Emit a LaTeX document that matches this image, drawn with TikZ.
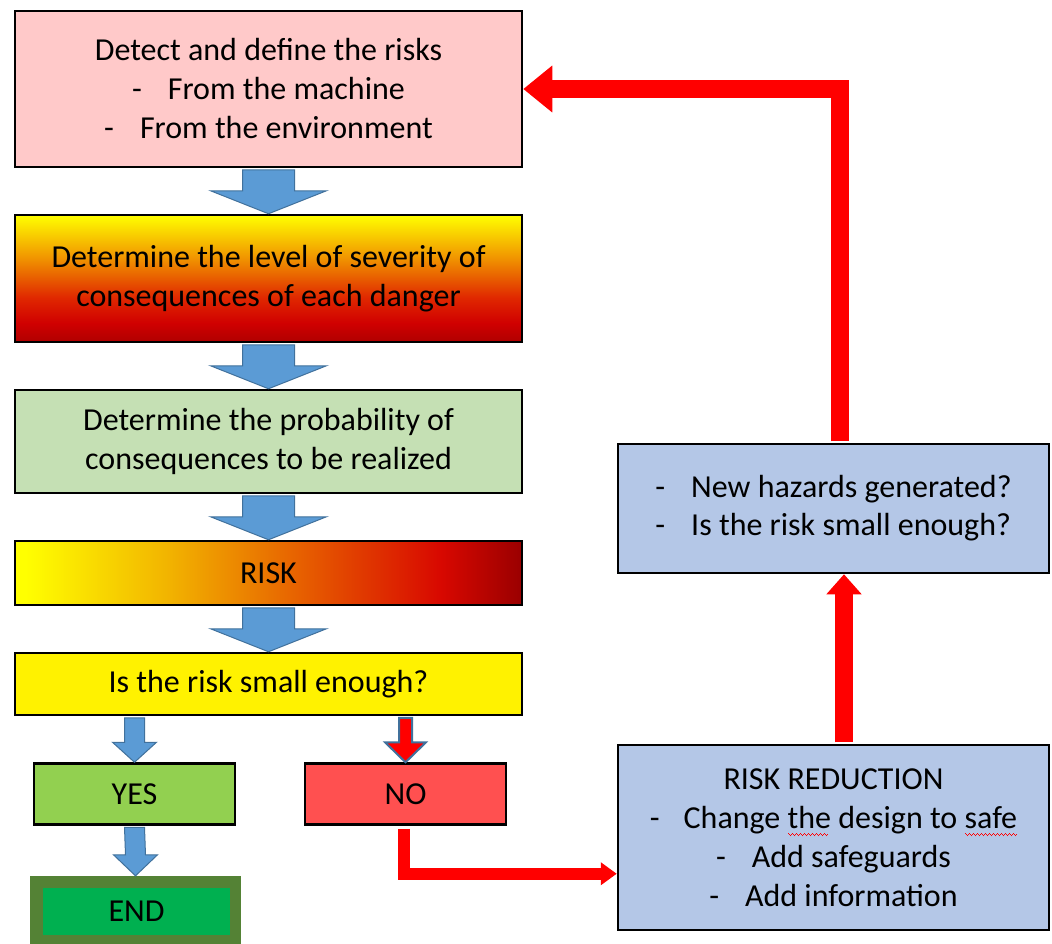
\documentclass[tikz,border=0pt]{standalone}
\usepackage{fontspec}
\setmainfont{Carlito}
\usetikzlibrary{arrows.meta,calc}
\definecolor{pinkbox}{HTML}{FFC9C9}
\definecolor{greenbox}{HTML}{C5E0B4}
\definecolor{yesgreen}{HTML}{92D050}
\definecolor{nored}{HTML}{FF5050}
\definecolor{endolive}{HTML}{548235}
\definecolor{endgreen}{HTML}{00B050}
\definecolor{paleblue}{HTML}{B4C7E7}
\definecolor{arrowblue}{HTML}{5B9BD5}
\definecolor{arrowedge}{HTML}{41719C}
\definecolor{sva}{HTML}{FFFF00}
\definecolor{svb}{HTML}{F09000}
\definecolor{svc}{HTML}{E02800}
\definecolor{svd}{HTML}{D00000}
\definecolor{sve}{HTML}{B00000}
\definecolor{rka}{HTML}{FFFF00}
\definecolor{rkb}{HTML}{F2B400}
\definecolor{rkc}{HTML}{E65A00}
\definecolor{rkd}{HTML}{D80800}
\definecolor{rke}{HTML}{9A0000}
\pgfdeclareverticalshading{sevgrad}{100bp}{color(0bp)=(sve); color(25bp)=(sve); color(32.5bp)=(svd); color(42.5bp)=(svc); color(57.5bp)=(svb); color(75bp)=(sva); color(100bp)=(sva)}
\pgfdeclarehorizontalshading{riskgrad}{100bp}{color(0bp)=(rka); color(26bp)=(rka); color(40bp)=(rkb); color(54bp)=(rkc); color(67bp)=(rkd); color(75bp)=(rke); color(100bp)=(rke)}
\newcommand\wavepiece{\hbox{\vrule width 1pt height -5pt depth 6.2pt\vrule width 1pt height -6pt depth 7.2pt\vrule width 1pt height -7pt depth 8.2pt\vrule width 1pt height -6pt depth 7.2pt}}
\newcommand\spellwave[1]{\leavevmode\setbox0=\hbox{#1}\rlap{\hbox to \wd0{\color{red}\leaders\wavepiece\hfill}}\box0\relax}
\newcommand\blkarrow[6]{%
  \draw[#6] ($#1+(-#3,1.5)$) -- ($#1+(#3,1.5)$) -- ($(#2)+(#3,-#5)$) -- ($(#2)+(#4,-#5)$) -- (#2) -- ($(#2)+(-#4,-#5)$) -- ($(#2)+(-#3,-#5)$) -- cycle;}
\begin{document}
\begin{tikzpicture}[x=1pt,y=-1pt,
  box/.style={draw=black, line width=2.5pt, inner sep=0pt, align=center,
    font=\fontsize{32}{39}\selectfont, text=black},
  wide/.style={minimum width=507pt},
  small/.style={minimum width=201pt, minimum height=61pt},
  rbox/.style={box, fill=paleblue, minimum width=431pt},
  bluearr/.style={fill=arrowblue, draw=arrowedge, line width=1pt, line join=miter},
  noarr/.style={fill=red, draw=arrowedge, line width=2pt, line join=miter},
  redline/.style={draw=red, line join=miter, line cap=butt}]
\useasboundingbox (0,0) rectangle (1052,943);
\fill[white] (0,0) rectangle (1052,943);
% left column
\node[box, wide, fill=pinkbox, minimum height=156pt] (b1) at (268.5,89)
  {Detect and define the risks\\ -\hspace{26pt}From the machine\\ -\hspace{26pt}From the environment};
\node[box, wide, shading=sevgrad, minimum height=127pt] (b2) at (268.5,278.5)
  {Determine the level of severity of\\ consequences of each danger};
\node[box, wide, fill=greenbox, minimum height=103pt] (b3) at (268.5,441.5)
  {Determine the probability of\\ consequences to be realized};
\node[box, wide, shading=riskgrad, minimum height=64pt] (b4) at (268.5,573)
  {RISK};
\node[box, wide, fill=yellow, minimum height=62pt] (b5) at (268.5,684)
  {Is the risk small enough?};
\node[box, small, fill=yesgreen] (yes) at (134.5,794) {YES};
\node[box, small, fill=nored] (no) at (405.5,794) {NO};
\node[fill=endolive, minimum width=211pt, minimum height=71pt, inner sep=0pt] (endo) at (135.5,911.5) {};
\node[box, draw=none, fill=endgreen, minimum width=187pt, minimum height=47pt] (end) at (136.5,911.5) {END};
% right column
\node[rbox, minimum height=129pt] (nr) at (833.5,508.5)
  {\begin{tabular}{@{}l@{}}-\hspace{26pt}New hazards generated?\\[-1pt] -\hspace{26pt}Is the risk small enough?\end{tabular}};
\node[rbox, minimum height=185pt] (rr) at (833.5,837.5)
  {RISK REDUCTION\\ -\hspace{24pt}Change \spellwave{the} design to \spellwave{safe}\\ -\hspace{26pt}Add safeguards\\ -\hspace{26pt}Add information};
% blue block arrows
\blkarrow{(b1.south)}{b2.north}{26}{58}{23}{bluearr}
\blkarrow{(b2.south)}{b3.north}{26}{58}{23}{bluearr}
\blkarrow{(b3.south)}{b4.north}{26}{58}{23}{bluearr}
\blkarrow{(b4.south)}{b5.north}{26}{58}{23}{bluearr}
\coordinate (ys) at (yes.north |- b5.south);
\blkarrow{(ys)}{yes.north}{10}{22}{20}{bluearr}
\blkarrow{(yes.south)}{endo.north}{10}{22}{21}{bluearr}
\coordinate (ns) at (no.north |- b5.south);
\blkarrow{(ns)}{no.north}{6.5}{20.5}{20}{noarr}
% red connectors
\coordinate (nb) at ($(no.south)+(-2,48)$);
\draw[redline, line width=12pt, -{Triangle[length=16pt,width=22pt]}]
  ($(no.south)+(-2,3)$) |- (rr.west |- nb);
\draw[redline, line width=18pt, -{Triangle[length=20pt,width=34pt]}]
  ($(rr.north)+(10.5,-1.5)$) -- ($(nr.south)+(10.5,0)$);
\draw[redline, line width=18pt, -{Triangle[length=29pt,width=45pt]}]
  ($(nr.north)+(6.5,-1.5)$) |- (b1.east);
\end{tikzpicture}
\end{document}
